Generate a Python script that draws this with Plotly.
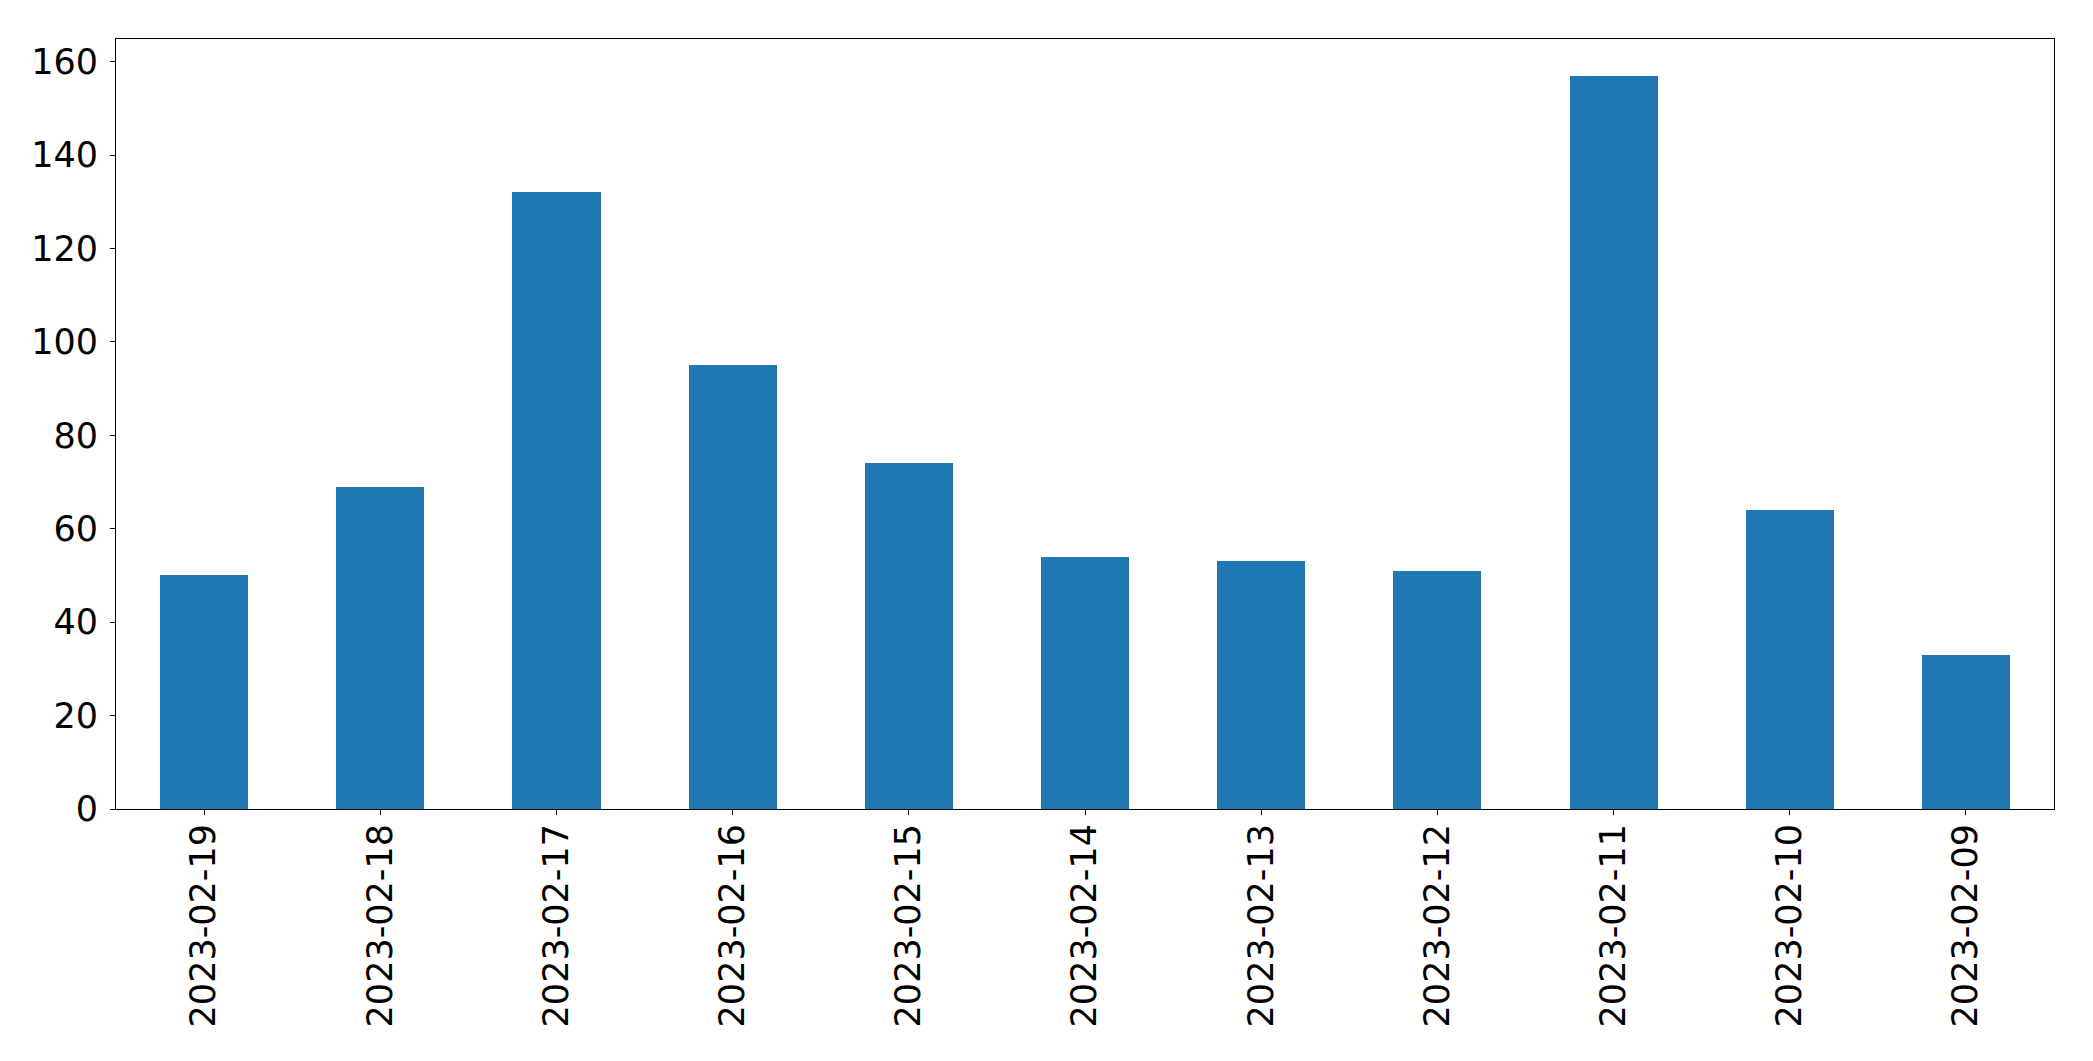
import plotly.graph_objects as go

dates = ["2023-02-19", "2023-02-18", "2023-02-17", "2023-02-16", "2023-02-15",
         "2023-02-14", "2023-02-13", "2023-02-12", "2023-02-11", "2023-02-10", "2023-02-09"]
counts = [50, 69, 132, 95, 74, 54, 53, 51, 157, 64, 33]
y_ticks = [0, 20, 40, 60, 80, 100, 120, 140, 160]

fig = go.Figure(go.Bar(x=dates, y=counts, width=0.5, marker=dict(color="#1f77b4", line=dict(width=0))))

font = dict(family="DejaVu Sans", size=35, color="black")
fig.update_layout(
    width=2093, height=1061,
    margin=dict(l=116, r=39, t=39, b=252, pad=0),
    paper_bgcolor="white", plot_bgcolor="white",
    showlegend=False,
    bargap=0,
    font=font,
)
fig.update_xaxes(
    type="category", range=[-0.5, len(dates) - 0.5],
    tickangle=-90, ticks="outside", ticklen=5, tickcolor="black", tickwidth=1,
    showline=True, linecolor="black", linewidth=1, mirror=True,
    showgrid=False, zeroline=False, tickfont=font, ticklabelstandoff=-5,
)
fig.update_yaxes(
    range=[0, max(counts) * 1.05], tickvals=y_ticks, ticktext=[str(v) for v in y_ticks],
    ticks="outside", ticklen=5, tickcolor="black", tickwidth=1,
    showline=True, linecolor="black", linewidth=1, mirror=True,
    showgrid=False, zeroline=False, tickfont=font, ticklabelstandoff=5,
)

fig.write_html("out.html", config={"displayModeBar": False},
               post_script="document.body.style.margin='0';document.body.style.padding='0';")
